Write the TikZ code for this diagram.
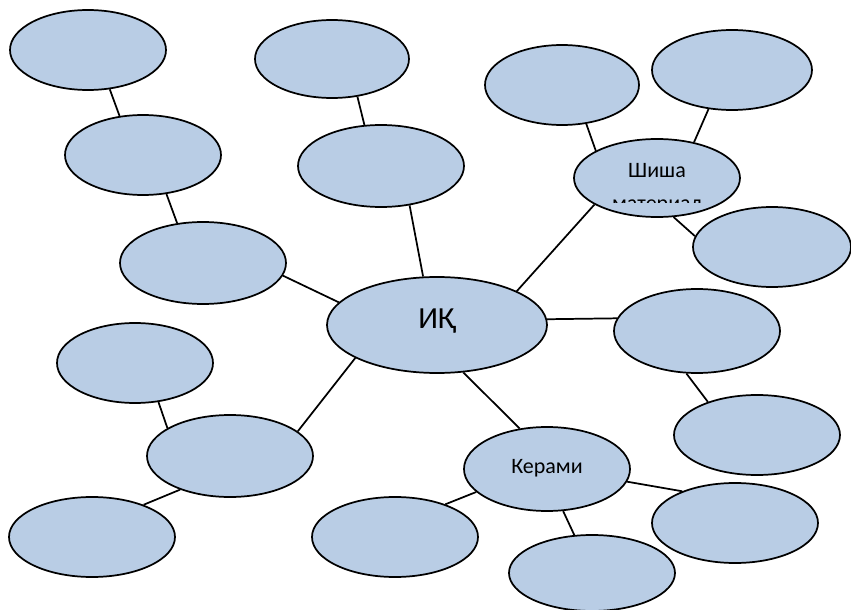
\documentclass[tikz,border=0pt]{standalone}
\usepackage{fontspec}
\setmainfont{Carlito}
\usetikzlibrary{shapes.geometric}
\definecolor{bubble}{HTML}{B9CDE5}
\tikzset{
  bub/.style={ellipse, draw=black, fill=bubble, line width=1.3pt, inner sep=0pt},
  conn/.style={draw=black, line width=1.3pt},
  lbl/.style={anchor=base, inner sep=0pt, font=\fontsize{16.5}{19}\selectfont}
}
\begin{document}
\begin{tikzpicture}[x=0.75pt, y=-0.75pt]
\useasboundingbox (0,0) rectangle (851,610);
% bubbles: center, width, height (px)
\node[bub, minimum width=156*0.75pt, minimum height=80*0.75pt] (n1) at (88,50) {};
\node[bub, minimum width=156*0.75pt, minimum height=80*0.75pt] (n2) at (143,155) {};
\node[bub, minimum width=166*0.75pt, minimum height=82*0.75pt] (n3) at (203,263) {};
\node[bub, minimum width=154*0.75pt, minimum height=78*0.75pt] (n4) at (332,59) {};
\node[bub, minimum width=166*0.75pt, minimum height=82*0.75pt] (n5) at (381,166) {};
\node[bub, minimum width=220*0.75pt, minimum height=96*0.75pt] (n6) at (437,325) {};
\node[bub, minimum width=154*0.75pt, minimum height=80*0.75pt] (n7) at (562,85) {};
\node[bub, minimum width=160*0.75pt, minimum height=80*0.75pt] (n8) at (732,70) {};
\node[bub, minimum width=166*0.75pt, minimum height=78*0.75pt] (n9) at (657,178) {};
\node[bub, minimum width=158*0.75pt, minimum height=80*0.75pt] (n10) at (772,247) {};
\node[bub, minimum width=166*0.75pt, minimum height=84*0.75pt] (n11) at (697,331) {};
\node[bub, minimum width=166*0.75pt, minimum height=80*0.75pt] (n12) at (757,435) {};
\node[bub, minimum width=156*0.75pt, minimum height=80*0.75pt] (n13) at (135,363) {};
\node[bub, minimum width=166*0.75pt, minimum height=82*0.75pt] (n14) at (230,456) {};
\node[bub, minimum width=166*0.75pt, minimum height=80*0.75pt] (n15) at (92,537) {};
\node[bub, minimum width=166*0.75pt, minimum height=84*0.75pt] (n16) at (547,469) {};
\node[bub, minimum width=166*0.75pt, minimum height=80*0.75pt] (n17) at (395,537) {};
\node[bub, minimum width=166*0.75pt, minimum height=76*0.75pt] (n18) at (592,573) {};
\node[bub, minimum width=166*0.75pt, minimum height=80*0.75pt] (n19) at (735,523) {};
% connectors
\draw[conn] (n1.-61.2) -- (n2.121.2);
\draw[conn] (n2.-59.5) -- (n3.123.4);
\draw[conn] (n3.-9.6) -- (n6.167.2);
\draw[conn] (n4.-56.3) -- (n5.112.5);
\draw[conn] (n5.-54.7) -- (n6.106.3);
\draw[conn] (n6.23.4) -- (n9.-157.8);
\draw[conn] (n7.-58.1) -- (n9.156.6);
\draw[conn] (n8.-121) -- (n9.44.2);
\draw[conn] (n9.-67.8) -- (n10.172.6);
\draw[conn] (n6.3.6) -- (n11.171);
\draw[conn] (n11.-104.7) -- (n12.146.3);
\draw[conn] (n6.-158.7) -- (n14.20.9);
\draw[conn] (n13.-59.5) -- (n14.156);
\draw[conn] (n14.-146.6) -- (n15.32.6);
\draw[conn] (n6.-61) -- (n16.124.7);
\draw[conn] (n16.-162.3) -- (n17.33.4);
\draw[conn] (n16.-69.6) -- (n18.115.3);
\draw[conn] (n16.-9.5) -- (n19.149.9);
% texts
\node[anchor=base, inner sep=0pt, font=\fontsize{23}{27}\selectfont] (t6) at (437,328) {ИҚ};
\node[lbl] (t16) at (547,473) {Керами};
\begin{scope}
\clip (574,140) rectangle (740,203);
\node[lbl] (t9a) at (657,177) {Шиша};
\node[lbl] (t9b) at (657,210) {материал};
\end{scope}
\end{tikzpicture}
\end{document}
